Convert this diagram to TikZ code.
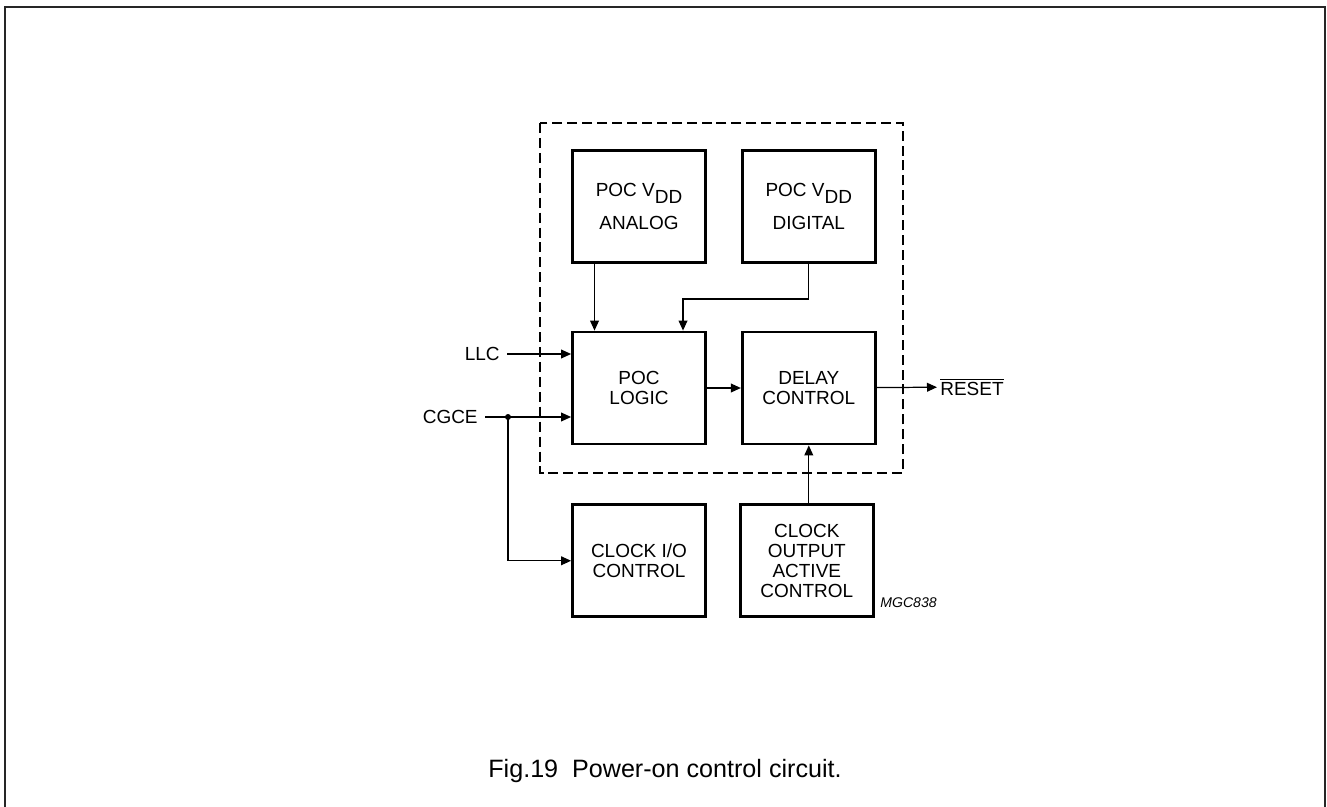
\documentclass[tikz,border=0pt]{standalone}
\usepackage{fontspec}
\setmainfont{Liberation Sans}
\usetikzlibrary{arrows.meta, positioning, calc}

\begin{document}
\begin{tikzpicture}[x=0.02cm,y=-0.02cm,font=\fontsize{10.8}{11.3}\selectfont,
  block/.style={draw,line width=1.6pt,minimum width=2.66cm,minimum height=2.24cm,align=center,inner sep=0pt},
  signal/.style={inner xsep=0.14cm,inner ysep=1pt},
  arrow/.style={-{Triangle[length=5.7pt,width=5pt]},line width=0.7pt},
  chipedge/.style={dash pattern=on 5.7pt off 2.8pt,line width=1.6pt}]
  \useasboundingbox (0,0) rectangle (1327,807);
  \draw[line width=1.4pt,black!85] (5,807) -- (5,7) -- (1325,7) -- (1325,807);
  \draw[chipedge] (540,123) rectangle (903,473);
  \node[block] (logic) at (639,388) {POC\\LOGIC};
  \node[block,right=0.68cm of logic] (delay) {DELAY\\CONTROL};
  \node[block,above=1.34cm of logic] (analog) {POC V\raisebox{-4pt}{DD}\\[6pt]ANALOG};
  \node[block,right=0.68cm of analog] (digital) {POC V\raisebox{-4pt}{DD}\\[6pt]DIGITAL};
  \node[block,below=1.16cm of logic] (clkio) {CLOCK I/O\\CONTROL};
  \node[block,right=0.64cm of clkio] (clkout) {CLOCK\\OUTPUT\\ACTIVE\\CONTROL};
  \node[signal,anchor=east] (llc) at (507,354) {LLC};
  \node[signal,anchor=east] (cgce) at (485,417) {CGCE};
  \node[anchor=west,inner xsep=0.06cm] (reset) at (937,387) {$\overline{\hbox{RESET}}$};
  \node[anchor=east,inner sep=0pt,font=\fontsize{8}{9}\selectfont\itshape] (code) at (937,603) {MGC838};
  \node[inner sep=0pt,font=\fontsize{14.3}{16}\selectfont] (caption) at (665,771) {Fig.19\ \ Power-on control circuit.};
  \coordinate (split) at (508,417);
  \coordinate (bend) at (683,299);
  \draw[arrow] ([xshift=-0.89cm]analog.south) -- ([xshift=-0.89cm]analog.south |- logic.north);
  \draw[arrow] (digital.south) |- (bend) -- (bend |- logic.north);
  \draw[arrow] (llc.east) -- (logic.west |- llc.east);
  \draw[arrow] (cgce.east) -- (logic.west |- cgce.east);
  \draw[arrow] (split) |- (clkio.west);
  \fill (split) circle[radius=0.06cm];
  \draw[arrow] (logic) -- (delay);
  \draw[arrow] (delay) -- (reset);
  \draw[arrow] (delay.south |- clkout.north) -- (delay.south);
\end{tikzpicture}
\end{document}
